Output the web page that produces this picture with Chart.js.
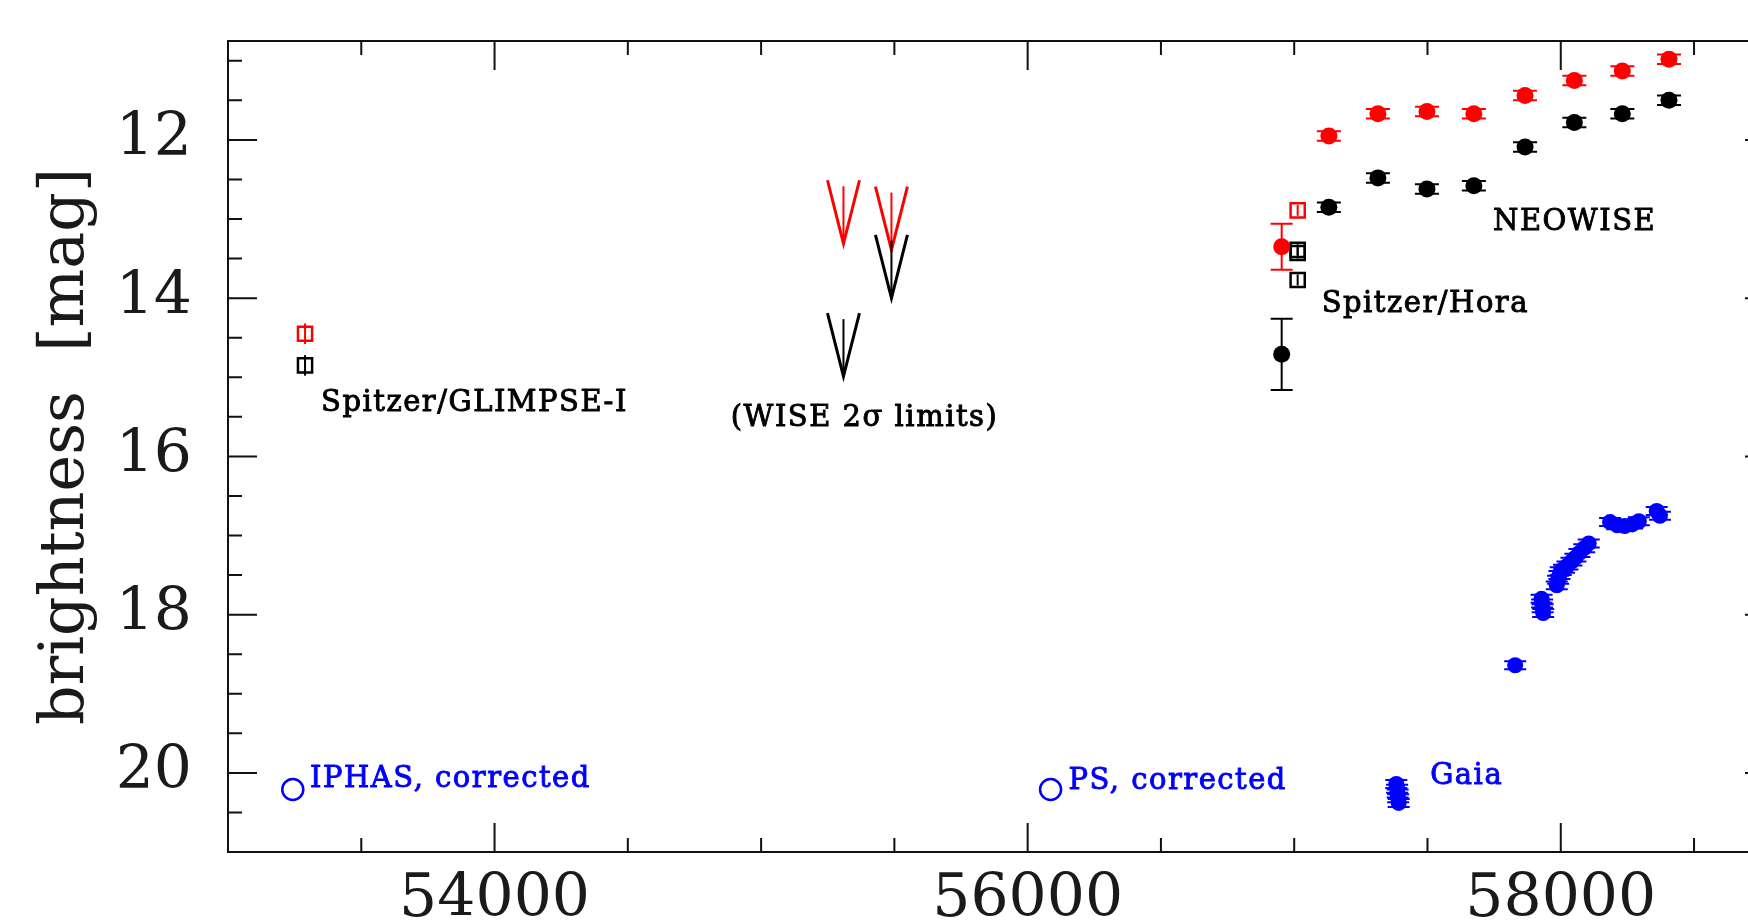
<!DOCTYPE html>
<html>
<head>
<meta charset="utf-8">
<script src="https://cdn.jsdelivr.net/npm/chart.js@4.4.0/dist/chart.umd.min.js"></script>
<style>
  html, body { margin: 0; padding: 0; background: #fff; overflow: hidden; }
  #wrap { position: absolute; left: 0; top: 0; width: 1800px; height: 921px; }
</style>
</head>
<body>
<div id="wrap"><canvas id="grafica" width="1800" height="921"></canvas></div>
<script>
// axis ticks
const xTicks = [54000, 56000, 58000];
const yTicks = [12, 14, 16, 18, 20];

// Spitzer/GLIMPSE-I (open squares)
const glimpseMjd = [53289];
const glimpse36 = [14.85];
const glimpse45 = [14.45];

// Spitzer/Hora (open squares)
const horaMjd = [57013, 57013, 57013];
const horaBlack = [13.39, 13.43, 13.77];
const horaRedMjd = [57013];
const horaRed = [12.89];

// filled points with large error bars just before NEOWISE
const earlyMjd = [56953];
const earlyRed = [13.35];
const earlyRedErr = [0.29];
const earlyBlack = [14.71];
const earlyBlackErr = [0.45];

// WISE 2 sigma upper limits
const wiseMjd = [55309, 55489];
const wiseRed = [12.51, 12.59];
const wiseBlack = [14.19, 13.20];

// NEOWISE
const neowiseMjd = [57130, 57314, 57498, 57674, 57866, 58051, 58231, 58406];
const neowiseW2 = [11.95, 11.67, 11.64, 11.67, 11.44, 11.25, 11.13, 10.98];
const neowiseW1 = [12.85, 12.48, 12.62, 12.58, 12.09, 11.78, 11.67, 11.50];

// IPHAS and PS (corrected), open circles
const iphasMjd = [53243];
const iphasMag = [20.21];
const psMjd = [56086];
const psMag = [20.21];

// Gaia
const gaiaMjd = [57383, 57386, 57388, 57390, 57392,
                 57829,
                 57928, 57930, 57932, 57934,
                 57985, 57990, 57995, 58000, 58012, 58025, 58040, 58055, 58070, 58088, 58105,
                 58185, 58212, 58240, 58268, 58293,
                 58360, 58372];
const gaiaMag = [20.14, 20.20, 20.26, 20.32, 20.38,
                 18.64,
                 17.80, 17.86, 17.92, 17.98,
                 17.63, 17.56, 17.50, 17.45, 17.42, 17.38, 17.33, 17.28, 17.22, 17.16, 17.10,
                 16.83, 16.87, 16.88, 16.86, 16.82,
                 16.69, 16.75];

// text labels
const labelTexts = ['Spitzer/GLIMPSE-I', '(WISE 2σ limits)', 'Spitzer/Hora', 'NEOWISE',
                    'IPHAS, corrected', 'PS, corrected', 'Gaia'];
const labelMjd = [53349, 55388, 57103, 57746, 53308, 56153, 57510];
const labelMag = [15.43, 15.62, 14.17, 13.14, 20.18, 20.21, 20.14];
const labelColors = ['#000', '#000', '#000', '#000', '#0000ff', '#0000ff', '#0000ff'];

const RED = '#ff0000', BLUE = '#0000ff', BLACK = '#000000';

function pts(xs, ys) {
    return xs.map((x, i) => ({x: x, y: ys[i]}));
}
function fill(n, v) {
    return new Array(n).fill(v);
}

// error bars, drawn with the chart scales
const errorBars = {
    id: 'errorBars',
    afterDatasetsDraw(chart) {
        const ctx = chart.ctx;
        const xs = chart.scales.x, ys = chart.scales.y;
        ctx.save();
        chart.data.datasets.forEach(ds => {
            if (!ds.err) return;
            ctx.strokeStyle = ds.borderColor;
            ctx.lineWidth = 2;
            ds.data.forEach((p, i) => {
                const e = ds.err[i];
                const px = xs.getPixelForValue(p.x);
                const y1 = ys.getPixelForValue(p.y - e);
                const y2 = ys.getPixelForValue(p.y + e);
                ctx.beginPath();
                ctx.moveTo(px, y1); ctx.lineTo(px, y2);
                if (ds.cap) {
                    ctx.moveTo(px - ds.cap, y1); ctx.lineTo(px + ds.cap, y1);
                    ctx.moveTo(px - ds.cap, y2); ctx.lineTo(px + ds.cap, y2);
                }
                ctx.stroke();
            });
        });
        ctx.restore();
    }
};

// upper limit arrows
const limitArrows = {
    id: 'limitArrows',
    afterDatasetsDraw(chart) {
        const ctx = chart.ctx;
        const xs = chart.scales.x, ys = chart.scales.y;
        ctx.save();
        chart.data.datasets.forEach(ds => {
            if (!ds.limit) return;
            ctx.strokeStyle = ds.borderColor;
            ds.data.forEach(p => {
                const px = xs.getPixelForValue(p.x);
                const top = ys.getPixelForValue(p.y);
                const tip = ys.getPixelForValue(p.y + 0.8);
                ctx.lineWidth = 3;
                ctx.beginPath();
                ctx.moveTo(px - 16, top); ctx.lineTo(px, tip); ctx.lineTo(px + 16, top);
                ctx.stroke();
                ctx.lineWidth = 2;
                ctx.beginPath();
                ctx.moveTo(px, top + 6); ctx.lineTo(px, tip);
                ctx.stroke();
            });
        });
        ctx.restore();
    }
};

// frame with inward ticks on all sides, plus text labels
const frame = {
    id: 'frame',
    afterDraw(chart) {
        const ctx = chart.ctx;
        const a = chart.chartArea;
        const x = chart.scales.x, y = chart.scales.y;
        ctx.save();
        ctx.strokeStyle = '#111';
        ctx.lineWidth = 2;
        ctx.strokeRect(a.left, a.top, a.right - a.left, a.bottom - a.top);
        ctx.beginPath();
        for (let v = 53000; v <= x.max; v += 500) {
            const px = x.getPixelForValue(v);
            const len = v % 2000 === 0 ? 29 : 14;
            ctx.moveTo(px, a.bottom); ctx.lineTo(px, a.bottom - len);
            ctx.moveTo(px, a.top); ctx.lineTo(px, a.top + len);
        }
        for (let v = 11; v <= y.max; v += 0.5) {
            const py = y.getPixelForValue(v);
            const len = v % 2 === 0 ? 29 : 14;
            ctx.moveTo(a.left, py); ctx.lineTo(a.left + len, py);
            ctx.moveTo(a.right, py); ctx.lineTo(a.right - len, py);
        }
        ctx.stroke();

        // labels: regular serif thickened with a thin outline
        labelTexts.forEach((t, i) => {
            ctx.save();
            ctx.translate(x.getPixelForValue(labelMjd[i]), y.getPixelForValue(labelMag[i]));
            ctx.scale(1, 1.05);
            ctx.font = '29px "DejaVu Serif"';
            ctx.letterSpacing = '1.5px';
            ctx.fillStyle = labelColors[i];
            ctx.strokeStyle = labelColors[i];
            ctx.lineWidth = 0.9;
            ctx.textAlign = i === 1 ? 'center' : 'left';
            ctx.textBaseline = 'alphabetic';
            ctx.fillText(t, 0, 0);
            ctx.strokeText(t, 0, 0);
            ctx.restore();
        });
        ctx.restore();
    }
};

const datos = {
    datasets: [
        { data: pts(neowiseMjd, neowiseW2), backgroundColor: RED, borderColor: RED,
          pointRadius: 8.5, borderWidth: 0, err: fill(8, 0.06), cap: 12 },
        { data: pts(neowiseMjd, neowiseW1), backgroundColor: BLACK, borderColor: BLACK,
          pointRadius: 8.5, borderWidth: 0, err: fill(8, 0.06), cap: 12 },
        { data: pts(earlyMjd, earlyRed), backgroundColor: RED, borderColor: RED,
          pointRadius: 8.5, borderWidth: 0, err: earlyRedErr, cap: 11 },
        { data: pts(earlyMjd, earlyBlack), backgroundColor: BLACK, borderColor: BLACK,
          pointRadius: 8.5, borderWidth: 0, err: earlyBlackErr, cap: 11 },
        { data: pts(glimpseMjd, glimpse45), pointStyle: 'rect', backgroundColor: 'rgba(0,0,0,0)',
          borderColor: RED, pointRadius: 10, borderWidth: 2.5, err: [0.13], cap: 0 },
        { data: pts(glimpseMjd, glimpse36), pointStyle: 'rect', backgroundColor: 'rgba(0,0,0,0)',
          borderColor: BLACK, pointRadius: 10, borderWidth: 2.5, err: [0.13], cap: 0 },
        { data: pts(horaRedMjd, horaRed), pointStyle: 'rect', backgroundColor: 'rgba(0,0,0,0)',
          borderColor: RED, pointRadius: 10, borderWidth: 2.5, err: [0.07], cap: 0 },
        { data: pts(horaMjd, horaBlack), pointStyle: 'rect', backgroundColor: 'rgba(0,0,0,0)',
          borderColor: BLACK, pointRadius: 10, borderWidth: 2.5, err: fill(3, 0.07), cap: 0 },
        { data: pts(wiseMjd, wiseRed), borderColor: RED, pointRadius: 0, limit: true },
        { data: pts(wiseMjd, wiseBlack), borderColor: BLACK, pointRadius: 0, limit: true },
        { data: pts(iphasMjd, iphasMag), backgroundColor: 'rgba(0,0,0,0)', borderColor: BLUE,
          pointRadius: 10.5, borderWidth: 2.5 },
        { data: pts(psMjd, psMag), backgroundColor: 'rgba(0,0,0,0)', borderColor: BLUE,
          pointRadius: 10.5, borderWidth: 2.5 },
        { data: pts(gaiaMjd, gaiaMag), backgroundColor: BLUE, borderColor: BLUE,
          pointRadius: 8, borderWidth: 0, err: fill(gaiaMjd.length, 0.05), cap: 11 }
    ]
};

const configuracion = {
    type: 'scatter',
    data: datos,
    options: {
        responsive: false,
        devicePixelRatio: 1,
        animation: false,
        layout: { padding: { left: 0, top: 41, right: 26, bottom: 0 } },
        plugins: { legend: { display: false }, tooltip: { enabled: false } },
        scales: {
            x: {
                type: 'linear', position: 'bottom', min: 53000, max: 58800,
                grid: { display: false, drawTicks: false }, border: { display: false },
                afterBuildTicks: s => { s.ticks = xTicks.map(v => ({value: v})); },
                afterFit: s => { s.height = 69; s.paddingLeft = 0; s.paddingRight = 0; },
                ticks: {
                    padding: 12, maxRotation: 0, color: '#1a1a1a',
                    font: { family: 'DejaVu Serif', size: 60 },
                    callback: v => String(v)
                }
            },
            y: {
                type: 'linear', position: 'left', reverse: true, min: 10.75, max: 21,
                grid: { display: false, drawTicks: false }, border: { display: false },
                afterBuildTicks: s => { s.ticks = yTicks.map(v => ({value: v})); },
                afterFit: s => { s.width = 228; s.paddingTop = 0; s.paddingBottom = 0; },
                ticks: {
                    padding: 36, color: '#1a1a1a',
                    font: { family: 'DejaVu Serif', size: 60 },
                    callback: v => String(v)
                },
                title: {
                    display: true, text: 'brightness  [mag]', color: '#1a1a1a',
                    font: { family: 'DejaVu Serif', size: 62 },
                    padding: { top: 30, bottom: 0 }
                }
            }
        }
    },
    plugins: [errorBars, limitArrows, frame]
};

new Chart(document.getElementById('grafica'), configuracion);
</script>
</body>
</html>
